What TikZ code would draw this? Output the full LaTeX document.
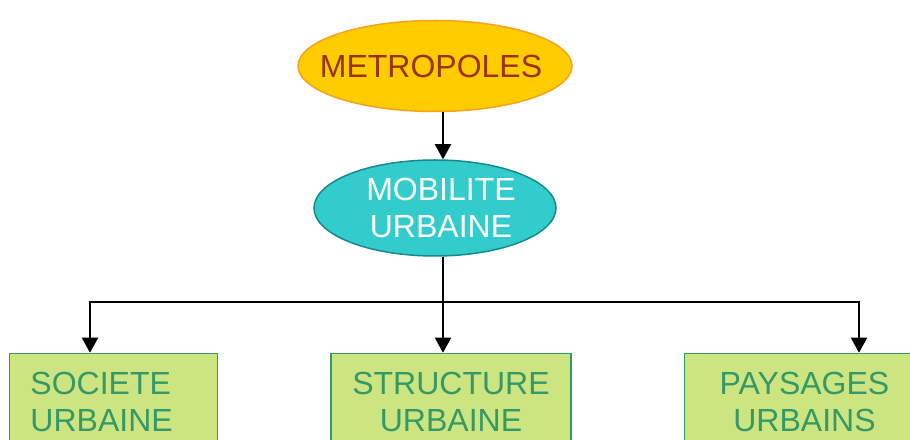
\documentclass[tikz,border=0pt]{standalone}
\usepackage{fontspec}
\setmainfont{Liberation Sans}
\usepackage{tikz}
\usetikzlibrary{arrows.meta, positioning, shapes.geometric}
\usepackage{xcolor}
\definecolor{Gold}{HTML}{FFCC00}
\definecolor{GoldEdge}{HTML}{F7A21B}
\definecolor{Rust}{HTML}{993300}
\definecolor{Teal}{HTML}{33CCCC}
\definecolor{TealEdge}{HTML}{16898A}
\definecolor{Lime}{HTML}{CDE581}
\definecolor{Leaf}{HTML}{339966}
\tikzset{%
  bubble/.style={%
    ellipse,%
    line width=1.5pt,%
  },
  caption/.style={%
    font={\fontsize{32}{37}\selectfont},%
    align=center,%
  },
  theme/.style={%
    rectangle,%
    draw=Leaf,%
    fill=Lime,%
    line width=1.5pt,%
    minimum width=240pt,%
    minimum height=96pt,%
    text=Leaf,%
    font={\fontsize{32}{37}\selectfont},%
    align=center,%
  },
  link/.style={%
    color=black,%
    line width=2pt,%
    line join=miter,%
  },
  arrow/.style={-{Triangle[length=15pt, width=16pt]}},
}
\begin{document}
\begin{tikzpicture}
  \useasboundingbox (0,0) rectangle (910pt,439pt);
  \clip (0,0) rectangle (910pt,439pt);

  \node [bubble, draw=GoldEdge, fill=Gold, minimum width=274pt, minimum height=91pt,
    label={[caption, text=Rust, xshift=-4pt]center:METROPOLES}] (Metro) at (435pt,373pt) {};
  \node [bubble, draw=TealEdge, fill=Teal, minimum width=242pt, minimum height=96pt,
    below = 47pt of Metro,
    label={[caption, text=white, xshift=6pt]center:MOBILITE\\URBAINE}] (Mobil) {};
  \node [theme, below = 96pt of Mobil, xshift=16pt] (Struct) {STRUCTURE\\URBAINE};
  \node [theme, minimum width=208pt, text width=166pt, align=left,
    left = 112pt of Struct] (Societe) {SOCIETE\\URBAINE};
  \node [theme, right = 112pt of Struct] (Paysages) {PAYSAGES\\URBAINS};
  \coordinate (split) at (443pt,137pt);
  \coordinate (left_drop) at (90pt,137pt);
  \coordinate (right_drop) at (859pt,137pt);

  \draw [arrow, link]
    (Metro.south -| split)
    --
    (Mobil.north -| split);
  \draw [link]
    (Mobil.south -| split)
    --
    (split);
  \draw [arrow, link]
    (split)
    --
    (Struct.north -| split);
  \draw [arrow, link]
    (split)
    --
    (left_drop)
    --
    (Societe.north -| left_drop);
  \draw [arrow, link]
    (split)
    --
    (right_drop)
    --
    (Paysages.north -| right_drop);

\end{tikzpicture}
\end{document}
